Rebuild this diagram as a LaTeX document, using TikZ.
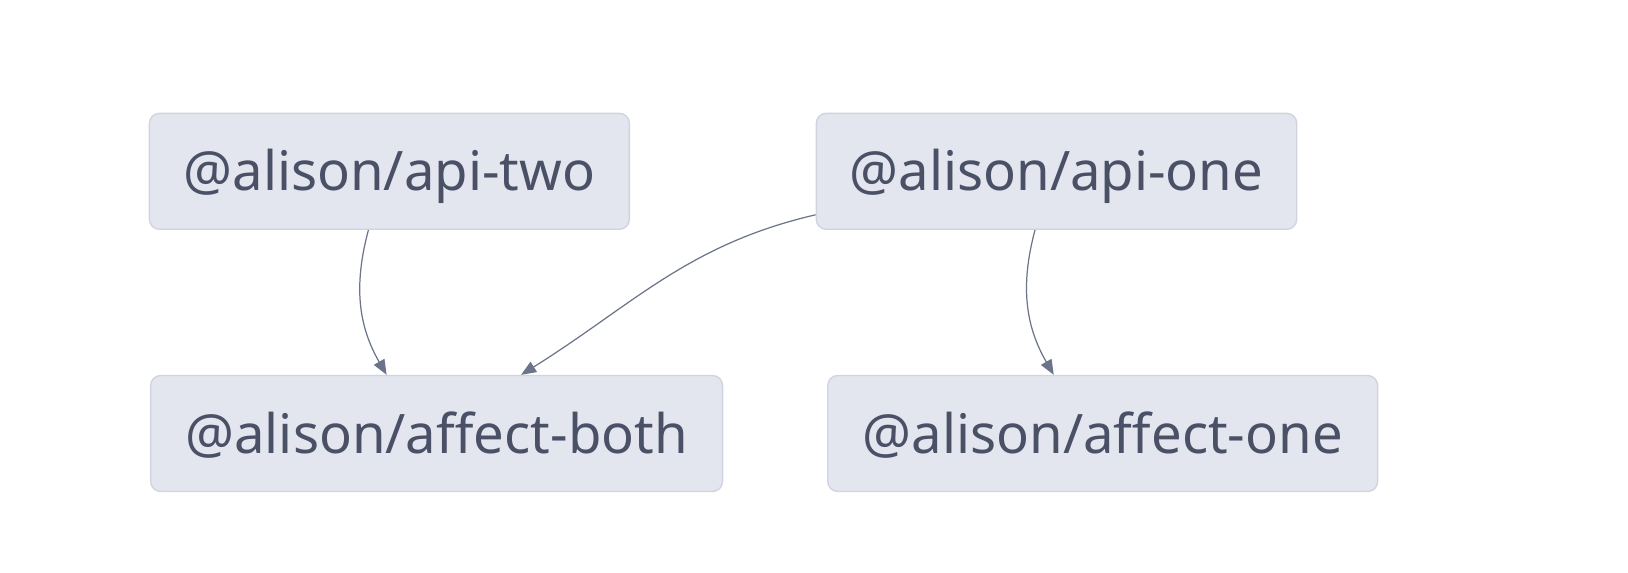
\documentclass[tikz,border=0pt]{standalone}
\usepackage{fontspec}
\setmainfont{Noto Sans}
\usetikzlibrary{arrows.meta}
\definecolor{boxfill}{RGB}{227,230,238}
\definecolor{boxline}{RGB}{208,212,224}
\definecolor{boxtext}{RGB}{74,81,102}
\definecolor{edgecol}{RGB}{108,116,137}
\begin{document}
\begin{tikzpicture}[
    x=0.02cm, y=-0.02cm,
    pkg/.style={draw=boxline, line width=0.8pt, fill=boxfill, rounded corners=0.2cm,
        text=boxtext, font=\fontsize{31}{36}\selectfont, inner sep=0pt,
        text height=29.6pt, text depth=7.4pt, minimum height=2.32cm},
    dep/.style={draw=edgecol, line width=0.7pt, -{Triangle[length=0.3cm, width=0.24cm]}}
]
\useasboundingbox (0,0) rectangle (1628,572);
% Packages
\node[pkg, minimum width=9.6cm] (two) at (389.4,171.3) {@alison/api-two};
\node[pkg, minimum width=9.61cm] (one) at (1056.5,171.3) {@alison/api-one};
\node[pkg, minimum width=11.44cm] (both) at (436.6,433.5) {@alison/affect-both};
\node[pkg, minimum width=11.0cm] (aone) at (1102.7,433.5) {@alison/affect-one};

% Dependencies
\draw[dep] ([xshift=-0.42cm]two.south) to[out=-105, in=120] ([xshift=-1.0cm]both.north);
\draw[dep] ([yshift=-0.87cm]one.west) to[out=193, in=32] ([xshift=1.69cm]both.north);
\draw[dep] ([xshift=-0.43cm]one.south) to[out=-105, in=120] ([xshift=-0.98cm]aone.north);
\end{tikzpicture}
\end{document}
